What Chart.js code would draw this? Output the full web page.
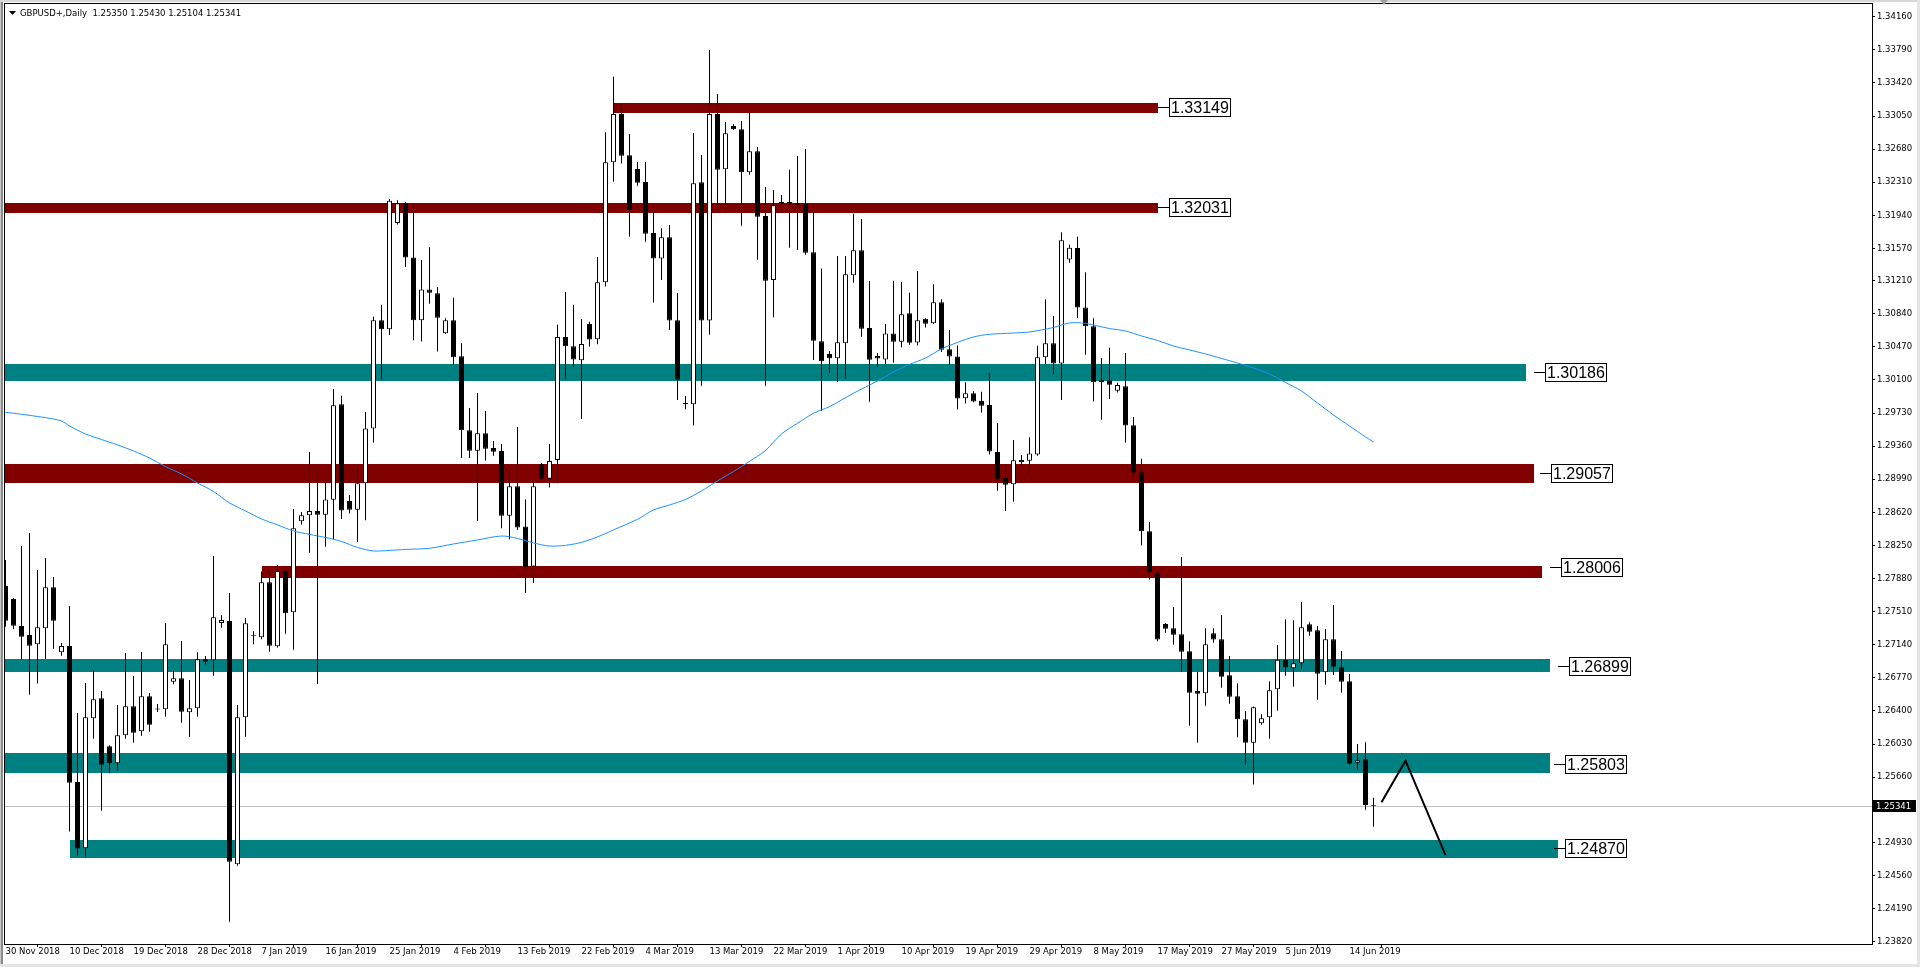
<!DOCTYPE html>
<html><head><meta charset="utf-8">
<script src="https://cdn.jsdelivr.net/npm/chart.js@4.4.1/dist/chart.umd.min.js"></script>
<style>html,body{margin:0;padding:0;background:#fff;overflow:hidden}#wrap{position:relative;width:1920px;height:967px}canvas{display:block}</style>
</head><body><div id="wrap"><canvas id="c" width="1920" height="967"></canvas></div>
<script>
// ---------------- DATA ----------------
const symbolTitle = "GBPUSD+,Daily";
const lastQuote = [1.25350, 1.25430, 1.25104, 1.25341]; // O H L C of current bar

const dateLabels = ['30 Nov 2018','10 Dec 2018','19 Dec 2018','28 Dec 2018','7 Jan 2019','16 Jan 2019','25 Jan 2019','4 Feb 2019','13 Feb 2019','22 Feb 2019','4 Mar 2019','13 Mar 2019','22 Mar 2019','1 Apr 2019','10 Apr 2019','19 Apr 2019','29 Apr 2019','8 May 2019','17 May 2019','27 May 2019','5 Jun 2019','14 Jun 2019'];
const dateLabelBars = [0,8,16,24,32,40,48,56,64,72,80,88,96,104,112,120,128,136,144,152,160,168];

const yTickValues = [1.34160,1.33790,1.33420,1.33050,1.32680,1.32310,1.31940,1.31570,1.31210,1.30840,1.30470,1.30100,1.29730,1.29360,1.28990,1.28620,1.28250,1.27880,1.27510,1.27140,1.26770,1.26400,1.26030,1.25660,1.25300,1.24930,1.24560,1.24190,1.23820];

const openP = [
1.27797,1.27651,1.27349,1.27249,1.27145,1.27324,1.27782,1.27055,1.27126,1.25606,
1.24865,1.26317,1.26541,1.26005,1.25814,1.26127,1.26452,1.26172,1.26563,1.26427,
1.26418,1.26727,1.26765,1.26384,1.26429,1.26977,1.26966,1.27383,1.27405,1.24686,
1.26329,1.27240,1.27223,1.27838,1.27122,1.27964,1.27502,1.28520,1.28586,1.28635,
1.28594,1.28759,1.29827,1.28747,1.28648,1.28946,1.29557,1.30766,1.30666,1.31853,
1.32075,1.31468,1.30766,1.31111,1.31068,1.30621,1.30766,1.30365,1.29537,1.29309,
1.29504,1.29338,1.29306,1.28581,1.28910,1.28462,1.28015,1.29156,1.28995,1.29206,
1.30580,1.30477,1.30319,1.30725,1.30554,1.31191,1.32533,1.33072,1.32611,1.32458,
1.32313,1.31743,1.31456,1.31694,1.30767,1.29839,1.29828,1.32309,1.30763,1.33072,
1.32455,1.32939,1.32902,1.32421,1.32655,1.31933,1.31217,1.32089,1.32089,1.32075,
1.32067,1.31527,1.30532,1.30390,1.30342,1.30510,1.31270,1.31549,1.30681,1.30367,
1.30329,1.30619,1.30526,1.30846,1.30519,1.30784,1.30733,1.30968,1.30443,1.30363,
1.29896,1.29951,1.29867,1.29820,1.29295,1.29004,1.28933,1.29181,1.29197,1.29266,
1.30354,1.30510,1.30283,1.31447,1.31574,1.30910,1.30700,1.30073,1.30097,1.29980,
1.30030,1.29593,1.29068,1.28407,1.27945,1.27372,1.27324,1.27257,1.27067,1.26623,
1.26597,1.27268,1.27201,1.26798,1.26563,1.26306,1.26045,1.26261,1.26329,1.26642,
1.26973,1.26876,1.26932,1.27369,1.27301,1.26832,1.27201,1.26888,1.26731,1.25821,
1.25859,1.25350];
const highP = [
1.28087,1.27660,1.28244,1.28389,1.27976,1.28110,1.27897,1.27159,1.27573,1.26377,
1.26712,1.26854,1.26623,1.26016,1.26466,1.27048,1.26790,1.27059,1.26600,1.26477,
1.27383,1.26846,1.27182,1.26746,1.27055,1.27014,1.28132,1.27469,1.27718,1.26466,
1.27439,1.27290,1.27957,1.27964,1.28028,1.28012,1.28657,1.28624,1.29294,1.29144,
1.28971,1.29997,1.29922,1.28814,1.29095,1.29740,1.30807,1.30939,1.32123,1.32109,
1.32092,1.31968,1.31439,1.31583,1.31138,1.30790,1.31017,1.30509,1.29785,1.29954,
1.29752,1.29418,1.29384,1.29083,1.29574,1.28764,1.28980,1.29171,1.29384,1.30716,
1.31083,1.30939,1.30782,1.30749,1.31474,1.32868,1.33490,1.33184,1.32849,1.32536,
1.32536,1.31974,1.31795,1.31832,1.31072,1.29921,1.32860,1.32614,1.33788,1.33296,
1.32983,1.32961,1.32994,1.33084,1.32704,1.32257,1.32223,1.32167,1.32450,1.32603,
1.32682,1.31977,1.31345,1.30424,1.31485,1.31485,1.31958,1.31899,1.31206,1.30401,
1.30724,1.31208,1.31195,1.31073,1.31318,1.30790,1.31170,1.31002,1.30657,1.30485,
1.30073,1.29972,1.29967,1.30184,1.29619,1.29156,1.29429,1.29261,1.29459,1.30481,
1.31002,1.30813,1.31750,1.31612,1.31700,1.31304,1.30788,1.30345,1.30459,1.30068,
1.30400,1.29686,1.29218,1.28512,1.27975,1.27383,1.27562,1.28121,1.27179,1.26835,
1.27324,1.27324,1.27472,1.27014,1.26709,1.26399,1.26450,1.26362,1.26731,1.27137,
1.27424,1.27413,1.27618,1.27391,1.27349,1.27316,1.27584,1.27070,1.26813,1.26030,
1.26049,1.25430];
const lowP = [
1.27342,1.27313,1.26977,1.26581,1.26705,1.26981,1.27096,1.27017,1.25051,1.24782,
1.24760,1.26089,1.25285,1.25703,1.25732,1.26089,1.26045,1.26123,1.26168,1.26388,
1.26335,1.26698,1.26268,1.26108,1.26335,1.26921,1.26794,1.27330,1.24044,1.24670,
1.26112,1.27145,1.27201,1.27062,1.27110,1.27263,1.27084,1.28483,1.28168,1.26701,
1.28235,1.28318,1.28545,1.28607,1.28289,1.28532,1.29401,1.30104,1.30601,1.31836,
1.31362,1.30542,1.30530,1.30952,1.30418,1.30614,1.30270,1.29227,1.29227,1.28523,
1.29199,1.29252,1.28442,1.28318,1.28421,1.27718,1.27829,1.28982,1.28897,1.28946,
1.30104,1.30241,1.29664,1.30474,1.30498,1.31143,1.32316,1.32518,1.31701,1.32271,
1.31645,1.30964,1.31217,1.30659,1.29876,1.29772,1.29589,1.30035,1.30606,1.32052,
1.32014,1.32894,1.31824,1.32394,1.31444,1.30035,1.30800,1.32007,1.31578,1.31553,
1.31500,1.30323,1.29756,1.30181,1.30080,1.30111,1.31187,1.30583,1.29857,1.30241,
1.30275,1.30292,1.30464,1.30493,1.30485,1.30687,1.30725,1.30413,1.30270,1.29770,
1.29837,1.29850,1.29736,1.29266,1.28861,1.28635,1.28739,1.29130,1.29030,1.29252,
1.30275,1.30165,1.29875,1.31409,1.30791,1.30380,1.29858,1.29656,1.29887,1.29959,
1.29400,1.29009,1.28248,1.27870,1.27180,1.27275,1.27140,1.26839,1.26235,1.26045,
1.26458,1.27163,1.26660,1.26481,1.26105,1.25799,1.25576,1.26246,1.26089,1.26403,
1.26794,1.26671,1.26872,1.27241,1.26525,1.26693,1.26802,1.26604,1.25800,1.25743,
1.25296,1.25104];
const closeP = [
1.27409,1.27353,1.27230,1.27129,1.27335,1.27782,1.27409,1.27126,1.25598,1.24861,
1.26329,1.26530,1.25799,1.25814,1.26127,1.26452,1.26157,1.26563,1.26246,1.26416,
1.27145,1.26765,1.26391,1.26429,1.26977,1.26950,1.27447,1.27416,1.24715,1.26329,
1.27380,1.27235,1.27838,1.27129,1.27964,1.27491,1.28442,1.28586,1.28635,1.28594,
1.28764,1.29818,1.28640,1.28648,1.28946,1.29557,1.30766,1.30666,1.32104,1.32075,
1.31468,1.30766,1.31111,1.31073,1.30795,1.30766,1.30352,1.29537,1.29309,1.29504,
1.29330,1.29297,1.28581,1.28910,1.28450,1.28007,1.28910,1.28995,1.29194,1.30580,
1.30477,1.30328,1.30502,1.30552,1.31191,1.32533,1.33072,1.32607,1.32000,1.32305,
1.31735,1.31456,1.31694,1.30763,1.30103,1.29831,1.32298,1.30763,1.33072,1.32450,
1.32857,1.32902,1.32421,1.32655,1.31925,1.31209,1.32052,1.32075,1.32075,1.32059,
1.31522,1.30539,1.30309,1.30342,1.30521,1.31281,1.31549,1.30673,1.30326,1.30338,
1.30619,1.30526,1.30834,1.30514,1.30767,1.30729,1.30968,1.30438,1.30363,1.29891,
1.29951,1.29858,1.29812,1.29299,1.28992,1.28929,1.29202,1.29206,1.29278,1.30354,
1.30510,1.30283,1.31662,1.31578,1.30910,1.30700,1.30073,1.30097,1.30047,1.30043,
1.29589,1.29063,1.28407,1.27949,1.27197,1.27319,1.27252,1.27062,1.26604,1.26593,
1.27145,1.27197,1.26783,1.26559,1.26306,1.26045,1.26441,1.26317,1.26631,1.26973,
1.26884,1.26932,1.27335,1.27286,1.26816,1.27201,1.26894,1.26727,1.25810,1.25848,
1.25349,1.25341];

// moving average (bar index, value)
const maBars = [0,2,4,6,7,8,10,12,14,16,18,20,22,24,26,28,30,32,34,36,38,40,42,44,46,48,50,53,56,59,62,64,66,68,70,72,74,76,79,81,83,85,87,89,91,93,95,97,99,101,103,106,109,111,113,115,117,119,121,123,126,128,131,133,135,138,140,142,144,146,148,150,152,154,156,158,160,162,164,166,168,170,171];
const maValues = [1.29738,1.29716,1.29691,1.29663,1.29641,1.29585,1.29496,1.29434,1.29373,1.29306,1.29227,1.29130,1.29049,1.28948,1.28853,1.28725,1.28635,1.28546,1.28479,1.28412,1.28373,1.28339,1.28294,1.28227,1.28188,1.28194,1.28205,1.28218,1.28266,1.28311,1.28355,1.28328,1.28278,1.28243,1.28251,1.28284,1.28345,1.28423,1.28542,1.28646,1.28702,1.28764,1.28859,1.28971,1.29077,1.29189,1.29311,1.29496,1.29615,1.29727,1.29801,1.29951,1.30088,1.30189,1.30273,1.30345,1.30446,1.30519,1.30580,1.30610,1.30624,1.30636,1.30686,1.30737,1.30731,1.30674,1.30647,1.30591,1.30541,1.30479,1.30435,1.30390,1.30340,1.30289,1.30234,1.30166,1.30071,1.29976,1.29842,1.29708,1.29585,1.29462,1.29406];

// support / resistance zones
const levelPrice  = [1.33149, 1.32031, 1.30186, 1.29057, 1.28006, 1.26899, 1.25803, 1.24870];
const levelTop    = [1.33196, 1.32075, 1.30278, 1.29160, 1.28020, 1.26977, 1.25930, 1.24958];
const levelBottom = [1.33087, 1.31969, 1.30092, 1.28951, 1.27890, 1.26839, 1.25710, 1.24760];
const levelFrom   = [76, -5, -5, -5, 32, -5, -5, 8];
const levelTo     = [144, 144, 190, 191, 192, 193, 193, 194];
const levelLabelAt= [144, 144, 191.1, 191.8, 193, 194, 193.6, 193.6];
const levelKind   = ['R','R','S','R','R','S','S','S'];

// projected path
const projBars   = [172, 175, 180];
const projPrices = [1.25379, 1.25844, 1.24787];

// ---------------- STYLE / BUILD ----------------
const levelColors = {R:'#800000', S:'#008080'};
const smallFont = '8.5px "DejaVu Sans", sans-serif';
const N = openP.length;
const idx = openP.map((_, i) => i);

const wickData = idx.map(i => ({x: i, y: [lowP[i], highP[i]]}));
const bodyData = idx.map(i => ({x: i, y: [Math.min(openP[i], closeP[i]), Math.max(openP[i], closeP[i])]}));
const bodyColors = idx.map(i => closeP[i] >= openP[i] ? '#ffffff' : '#000000');
const maData = maBars.map((b, i) => ({x: b, y: maValues[i]}));
const projData = projBars.map((b, i) => ({x: b, y: projPrices[i]}));

Chart.defaults.font.family = '"DejaVu Sans", sans-serif';
Chart.defaults.font.size = 8.5;
Chart.defaults.color = '#000';

const px = (c, v) => c.scales.x.getPixelForValue(v);
const py = (c, v) => c.scales.y.getPixelForValue(v);

const overlay = {
  id: 'overlay',
  beforeDraw(chart) {
    const ctx = chart.ctx;
    ctx.save(); ctx.fillStyle = '#fff'; ctx.fillRect(0, 0, chart.width, chart.height); ctx.restore();
  },
  beforeDatasetsDraw(chart) {
    const {ctx, chartArea: a} = chart;
    ctx.save();
    ctx.beginPath(); ctx.rect(a.left, a.top, a.right - a.left, a.bottom - a.top); ctx.clip();
    // current price line
    const yq = Math.round(py(chart, lastQuote[3])) + 0.5;
    ctx.strokeStyle = '#c0c0c0'; ctx.lineWidth = 1;
    ctx.beginPath(); ctx.moveTo(a.left, yq); ctx.lineTo(a.right, yq); ctx.stroke();
    // zones
    levelPrice.forEach((p, i) => {
      const x1 = Math.round(px(chart, levelFrom[i])), x2 = Math.round(px(chart, levelTo[i]));
      const y1 = Math.round(py(chart, levelTop[i])), y2 = Math.round(py(chart, levelBottom[i]));
      ctx.fillStyle = levelColors[levelKind[i]];
      ctx.fillRect(x1, y1, x2 - x1, y2 - y1);
    });
    ctx.restore();
  },
  afterDatasetsDraw(chart) {
    const ctx = chart.ctx;
    ctx.save();
    ctx.font = '16px "Liberation Sans", Arial, sans-serif';
    ctx.textBaseline = 'middle'; ctx.textAlign = 'left';
    levelPrice.forEach((p, i) => {
      const x0 = Math.round(px(chart, levelLabelAt[i]));
      const y0 = Math.round(py(chart, p)) + 0.5;
      const txt = p.toFixed(5);
      const w = Math.ceil(ctx.measureText(txt).width) + 4;
      ctx.strokeStyle = '#000'; ctx.lineWidth = 1;
      ctx.beginPath(); ctx.moveTo(x0, y0); ctx.lineTo(x0 + 11, y0); ctx.stroke();
      ctx.fillStyle = '#fff'; ctx.fillRect(x0 + 11, y0 - 9, w, 18);
      ctx.strokeRect(x0 + 11.5, y0 - 9, w - 1, 18);
      ctx.fillStyle = '#000'; ctx.fillText(txt, x0 + 13, y0 + 1);
    });
    ctx.restore();
  },
  afterDraw(chart) {
    const {ctx, chartArea: a} = chart;
    ctx.save();
    ctx.strokeStyle = '#000'; ctx.lineWidth = 1;
    ctx.strokeRect(a.left + 0.5, a.top + 0.5, a.right - a.left, a.bottom - a.top);
    // window frame
    ctx.fillStyle = '#c8c8c8'; ctx.fillRect(0, 0, 1, chart.height);
    ctx.fillStyle = '#8a8a8a'; ctx.fillRect(1, 0, 2, chart.height);
    ctx.fillStyle = '#d8d8d8'; ctx.fillRect(0, 0, chart.width, 2);
    ctx.fillStyle = '#e4e4e4'; ctx.fillRect(0, chart.height - 3, chart.width, 3);
    ctx.fillRect(chart.width - 3, 0, 3, chart.height);
    // chart shift marker
    const sx = Math.round(px(chart, 172.3));
    ctx.fillStyle = '#a0a0a0';
    ctx.beginPath(); ctx.moveTo(sx - 4, 0); ctx.lineTo(sx + 4, 0); ctx.lineTo(sx, 5); ctx.closePath(); ctx.fill();
    // title
    ctx.fillStyle = '#000';
    ctx.beginPath(); ctx.moveTo(9, 11); ctx.lineTo(16, 11); ctx.lineTo(12.5, 15); ctx.closePath(); ctx.fill();
    ctx.font = smallFont; ctx.textBaseline = 'middle'; ctx.textAlign = 'left';
    ctx.fillText(symbolTitle + '  ' + lastQuote.map(v => v.toFixed(5)).join(' '), 20, 13.5);
    // current price tag
    const yq = Math.round(py(chart, lastQuote[3]));
    ctx.fillStyle = '#000'; ctx.fillRect(a.right + 1, yq - 6, 43, 12);
    ctx.fillStyle = '#fff'; ctx.fillText(lastQuote[3].toFixed(5), a.right + 4, yq + 0.5);
    ctx.restore();
  }
};

new Chart(document.getElementById('c'), {
  type: 'bar',
  data: {
    datasets: [
      {type: 'line', label: 'proj', data: projData, borderColor: '#000', borderWidth: 2, pointRadius: 0, tension: 0, order: 0, clip: 0},
      {type: 'line', label: 'MA', data: maData, borderColor: '#1E90FF', borderWidth: 1, pointRadius: 0, tension: 0.3, order: 1, clip: 0},
      {label: 'body', data: bodyData, backgroundColor: bodyColors, borderColor: '#000', borderWidth: 1, borderSkipped: false, barThickness: 5, minBarLength: 1, grouped: false, inflateAmount: 0, order: 2, clip: 0},
      {label: 'wick', data: wickData, backgroundColor: '#000', borderWidth: 0, barThickness: 1, grouped: false, inflateAmount: 0, order: 3, clip: 0}
    ]
  },
  options: {
    responsive: false, animation: false, devicePixelRatio: 1, events: [],
    layout: {padding: {top: 3, left: 4, right: 0, bottom: 0}, autoPadding: false},
    plugins: {legend: {display: false}, tooltip: {enabled: false}, title: {display: false}},
    scales: {
      x: {
        type: 'linear', offset: false,
        min: -0.1875, max: 233.3125,
        grid: {drawOnChartArea: false, drawTicks: true, tickLength: 3, color: '#000'},
        border: {display: true, color: '#000'},
        afterBuildTicks: s => { s.ticks = dateLabelBars.map(v => ({value: v})); },
        afterFit: s => { s.height = 23; s.paddingLeft = 0; s.paddingRight = 0; },
        ticks: {autoSkip: false, maxRotation: 0, minRotation: 0, align: 'start', padding: 0, color: '#000',
          callback: (v, i) => dateLabels[i]}
      },
      y: {
        type: 'linear', position: 'right', beginAtZero: false,
        min: 1.2379444, max: 1.3431314,
        grid: {drawOnChartArea: false, drawTicks: true, tickLength: 3, color: '#000'},
        border: {display: true, color: '#000'},
        afterBuildTicks: s => { s.ticks = yTickValues.map(v => ({value: v})); },
        afterFit: s => { s.width = 48; s.paddingTop = 0; s.paddingBottom = 0; },
        ticks: {padding: 2, color: '#000', autoSkip: false, callback: v => Number(v).toFixed(5)}
      }
    }
  },
  plugins: [overlay]
});
</script>
</body></html>
